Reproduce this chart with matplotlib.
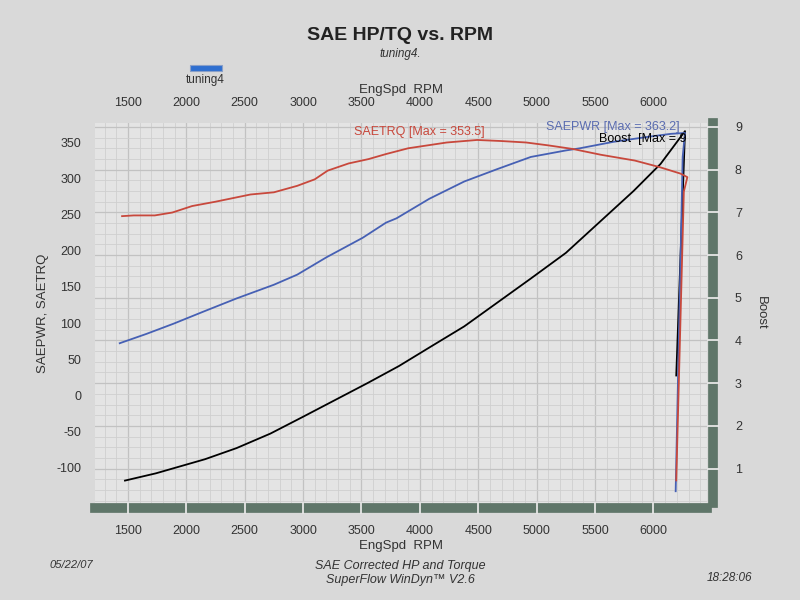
import matplotlib
matplotlib.use("Agg")
import matplotlib.pyplot as plt
from matplotlib.ticker import MultipleLocator
from matplotlib.patches import Rectangle

plt.rcParams["font.family"] = ["Liberation Sans", "DejaVu Sans"]
plt.rcParams["axes.unicode_minus"] = False

# ---- data ----
rpm_trq = [1450, 1550, 1730, 1880, 2050, 2250, 2550, 2750, 2950, 3100, 3210, 3390,
           3560, 3710, 3900, 4230, 4490, 4700, 4910, 5100, 5310, 5550, 5840, 6050,
           6230, 6290, 6260, 6195]
trq = [248, 249, 249, 253, 262, 268, 278, 281, 290, 299, 311, 321,
       327, 334, 342, 350, 353.5, 352, 350, 346, 341, 333, 325, 316,
       307, 302, 282, -118]

rpm_pwr = [1430, 1660, 1890, 2150, 2430, 2750, 2950, 3200, 3510, 3710, 3800, 4080,
           4380, 4660, 4950, 5250, 5370, 5660, 5960, 6150, 6270, 6250, 6190]
pwr = [72, 85, 99, 116, 134, 153, 167, 191, 218, 239, 245, 272,
       296, 313, 330, 339, 342, 351, 358, 362, 363.2, 330, -133]

rpm_bst = [1475, 1740, 2160, 2430, 2720, 2990, 3270, 3550, 3820, 4090, 4380, 4660,
           4950, 5250, 5530, 5830, 6060, 6270, 6195]
bst = [0.72, 0.89, 1.22, 1.48, 1.82, 2.2, 2.6, 3.0, 3.4, 3.85, 4.33, 4.88,
       5.45, 6.05, 6.75, 7.5, 8.13, 8.9, 3.18]

x_ticks = [1500, 2000, 2500, 3000, 3500, 4000, 4500, 5000, 5500, 6000]
left_ticks = [-100, -50, 0, 50, 100, 150, 200, 250, 300, 350]
right_ticks = [1, 2, 3, 4, 5, 6, 7, 8, 9]

RED = "#c8483c"
BLUE = "#4660b4"
BAR = "#5f7669"
TXT = "#333333"

fig = plt.figure(figsize=(8, 6), dpi=100, facecolor="#d9d9d9")

# boost axis (grid carrier)
axB = fig.add_axes([0.119, 0.162, 0.765, 0.633])
axB.set_facecolor("#e4e4e4")
axB.set_xlim(1220, 6460)
axB.set_ylim(0.2, 9.09)
axB.xaxis.set_major_locator(MultipleLocator(500))
axB.xaxis.set_minor_locator(MultipleLocator(100))
axB.yaxis.set_major_locator(MultipleLocator(1))
axB.yaxis.set_minor_locator(MultipleLocator(0.25))
axB.grid(True, which="major", color="#c2c2c2", lw=0.9)
axB.grid(True, which="minor", color="#cfcfcf", lw=0.6)
axB.plot(rpm_bst, bst, color="black", lw=1.3, zorder=3)

# power / torque axis
axP = axB.twinx()
axP.set_ylim(-149, 377)
axP.yaxis.tick_left()
axP.yaxis.set_label_position("left")
axP.set_yticks(left_ticks)
axP.tick_params(axis="y", length=0, labelsize=9, labelcolor=TXT, pad=10)
axP.set_ylabel("SAEPWR, SAETRQ", fontsize=9.5, color=TXT, labelpad=5)
for s in axP.spines.values():
    s.set_visible(False)
axP.plot(rpm_pwr, pwr, color=BLUE, lw=1.3, zorder=3)
axP.plot(rpm_trq, trq, color=RED, lw=1.3, zorder=3)

# boost ticks on the right (after twinx, which resets them)
axB.yaxis.tick_right()
axB.yaxis.set_label_position("right")
axB.set_yticks(right_ticks)
axB.set_xticks(x_ticks)
axB.tick_params(axis="y", which="minor", length=0)
axB.tick_params(axis="y", which="major", direction="inout", length=8, width=1.3,
                color="#e6e6e6", labelsize=9, labelcolor=TXT, pad=12)
axB.tick_params(axis="x", which="minor", length=0)
axB.tick_params(axis="x", which="major", direction="inout", length=8, width=1.3,
                color="#e6e6e6", labelsize=9, labelcolor=TXT, pad=8)
axB.set_ylabel("Boost", rotation=-90, labelpad=18, fontsize=9.5, color=TXT)
axB.set_xlabel("EngSpd  RPM", fontsize=9.5, color=TXT, labelpad=2)
for s in ["top", "left"]:
    axB.spines[s].set_visible(False)
for s in ["bottom", "right"]:
    axB.spines[s].set_color(BAR)
    axB.spines[s].set_linewidth(7)
    axB.spines[s].set_position(("outward", 4))
    axB.spines[s].set_zorder(1)

# top x axis
top = axB.secondary_xaxis("top")
top.set_xticks(x_ticks)
top.tick_params(length=0, labelsize=9, labelcolor=TXT, pad=10)
top.set_xlabel("EngSpd  RPM", fontsize=9.5, color=TXT, labelpad=3)
top.spines["top"].set_visible(False)

axP.text(3440, 365, "SAETRQ [Max = 353.5]", color=RED, fontsize=9, va="center")
axP.text(5080, 372, "SAEPWR [Max = 363.2]", color="#5a6cb0", fontsize=9, va="center")
axP.text(5530, 355, "Boost  [Max = 9", color="black", fontsize=9, va="center")

# titles and footer
fig.text(0.5, 0.94, "SAE HP/TQ vs. RPM", ha="center", va="center",
         fontsize=14, fontweight="bold", color="#222222")
fig.text(0.5, 0.91, "tuning4.", ha="center", va="center", fontsize=8.5,
         style="italic", color=TXT)
fig.patches.append(Rectangle((0.238, 0.882), 0.04, 0.01, transform=fig.transFigure,
                             facecolor="#2f6fd0", edgecolor="#8aa0c8", lw=0.8))
fig.text(0.257, 0.866, "tuning4", ha="center", va="center", fontsize=8.5, color=TXT)
fig.text(0.5, 0.057, "SAE Corrected HP and Torque", ha="center", va="center",
         fontsize=9, style="italic", color=TXT)
fig.text(0.5, 0.033, "SuperFlow WinDyn\u2122 V2.6", ha="center", va="center",
         fontsize=9, style="italic", color=TXT)
fig.text(0.062, 0.058, "05/22/07", ha="left", va="center", fontsize=8,
         style="italic", color=TXT)
fig.text(0.94, 0.036, "18:28:06", ha="right", va="center", fontsize=8.5,
         style="italic", color=TXT)

fig.savefig("out.png", dpi=100, facecolor=fig.get_facecolor())
